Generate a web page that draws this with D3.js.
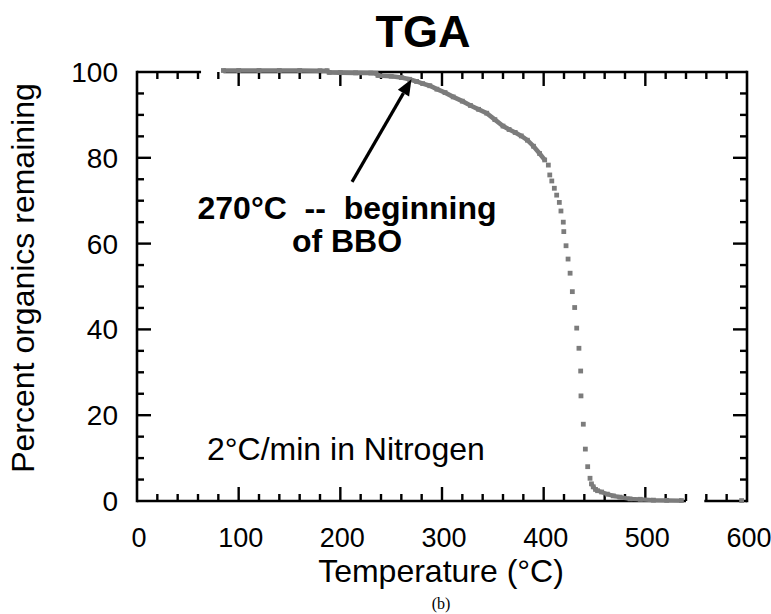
<!DOCTYPE html>
<html>
<head>
<meta charset="utf-8">
<script src="https://cdn.jsdelivr.net/npm/d3@7/dist/d3.min.js"></script>
<style>
  body { margin: 0; background: #fff; }
  svg { display: block; font-family: "Liberation Sans", Arial, Helvetica, sans-serif; }
</style>
</head>
<body>
<svg id="chart" width="771" height="614"></svg>
<script>
// TGA record (temperature in deg C, percent organics remaining)
// continuous part of the trace before the sharp drop
var earlyTemp = [85, 100, 120, 140, 160, 180, 187, 189, 200, 215, 230, 235, 237, 250, 260, 268, 275, 281,
                 288, 295, 303, 311, 320, 328, 336, 344, 352, 360, 366, 372, 378, 384, 390, 396, 401];
var earlyPct  = [100.35, 100.35, 100.35, 100.35, 100.35, 100.3, 100.3, 99.9, 99.85, 99.8, 99.75, 99.7, 99.2, 99.0, 98.7, 98.3, 97.8, 97.3,
                 96.8, 96.0, 95.2, 94.2, 93.2, 92.2, 91.3, 90.4, 88.9, 87.4, 86.6, 85.9, 85.1, 84.1, 82.7, 81.0, 79.5];
// separate points of the fast decomposition
var dropTemp = [404.6, 406, 408, 410.5, 412.8, 415.4, 417, 419.3, 419.8, 422, 424, 426, 428.2, 430.5,
                432.5, 434.7, 436.4, 436.7, 439, 441, 443.3, 445.6, 594.7];
var dropPct  = [78.3, 76, 74.6, 72.9, 71.3, 69.6, 67.6, 65, 62.8, 59.5, 56.4, 53.1, 48.8, 45.1,
                40.3, 35.6, 30.3, 24.5, 17.9, 12.1, 8, 5.3, 0.1];
// residue tail (continuous again)
var tailTemp = [447, 448.8, 451, 453, 457, 462.6, 468.5, 475, 485, 495, 508, 521, 535.5];
var tailPct  = [4.0, 3.3, 2.7, 2.4, 2.1, 1.6, 1.2, 0.9, 0.5, 0.4, 0.2, 0.15, 0.1];

var xTicks = [0, 100, 200, 300, 400, 500, 600];
var yTicks = [0, 20, 40, 60, 80, 100];

var svg = d3.select("#chart");
var plotL = 137, plotR = 747, plotT = 72, plotB = 501;

var x = d3.scaleLinear().domain([0, 600]).range([plotL, plotR]);
var y = d3.scaleLinear().domain([0, 100]).range([plotB, plotT]);

var gray = "#7c7c7c";
var majorLen = 14, minorLen = 7;

// frame (top and bottom lines are broken in the original)
var frame = svg.append("g").attr("stroke", "#000").attr("stroke-width", 2.6).attr("fill", "none");
[[0, 63], [85, 600]].forEach(function (s) {
    frame.append("line").attr("x1", x(s[0])).attr("x2", x(s[1])).attr("y1", y(100)).attr("y2", y(100));
});
[[0, 540], [558, 600]].forEach(function (s) {
    frame.append("line").attr("x1", x(s[0])).attr("x2", x(s[1])).attr("y1", y(0)).attr("y2", y(0));
});
frame.append("line").attr("x1", x(0)).attr("x2", x(0)).attr("y1", y(0) + 1.3).attr("y2", y(100) - 1.3);
frame.append("line").attr("x1", x(600)).attr("x2", x(600)).attr("y1", y(0) + 1.3).attr("y2", y(100) - 1.3);

// ticks, all pointing inward
var tickG = svg.append("g").attr("stroke", "#000").attr("stroke-width", 2.4);
d3.range(20, 600, 20).forEach(function (t) {
    var len = t % 100 === 0 ? majorLen : minorLen;
    tickG.append("line").attr("x1", x(t)).attr("x2", x(t)).attr("y1", y(0)).attr("y2", y(0) - len);
    tickG.append("line").attr("x1", x(t)).attr("x2", x(t)).attr("y1", y(100)).attr("y2", y(100) + len);
});
d3.range(5, 100, 5).forEach(function (p) {
    var len = p % 20 === 0 ? majorLen : minorLen;
    tickG.append("line").attr("x1", x(0)).attr("x2", x(0) + len).attr("y1", y(p)).attr("y2", y(p));
    tickG.append("line").attr("x1", x(600)).attr("x2", x(600) - len).attr("y1", y(p)).attr("y2", y(p));
});

// tick labels
svg.append("g").selectAll("text").data(xTicks).enter().append("text")
    .attr("x", function (d) { return x(d) + 2; })
    .attr("y", 547)
    .attr("text-anchor", "middle")
    .attr("font-size", 27)
    .text(function (d) { return d; });

svg.append("g").selectAll("text").data(yTicks).enter().append("text")
    .attr("x", 118)
    .attr("y", function (d) { return y(d) + 10; })
    .attr("text-anchor", "end")
    .attr("font-size", 28)
    .text(function (d) { return d; });

// data: thick trace where the recorder points merge, squares everywhere
var line = d3.line().x(function (d) { return x(d[0]); }).y(function (d) { return y(d[1]); });
var early = d3.zip(earlyTemp, earlyPct);
var drop = d3.zip(dropTemp, dropPct);
var tail = d3.zip(tailTemp, tailPct);

svg.append("path").datum(early).attr("d", line)
    .attr("fill", "none").attr("stroke", gray).attr("stroke-width", 4.6);
svg.append("path").datum(tail).attr("d", line)
    .attr("fill", "none").attr("stroke", gray).attr("stroke-width", 4.2);

var sq = 4.8;
svg.append("g").selectAll("rect").data(early.concat(drop, tail)).enter().append("rect")
    .attr("x", function (d) { return x(d[0]) - sq / 2; })
    .attr("y", function (d) { return y(d[1]) - sq / 2; })
    .attr("width", sq).attr("height", sq)
    .attr("fill", gray);

// annotation arrow
var tip = [x(270), y(98.3)], tailPt = [x(211.5), y(74.4)];
var ang = Math.atan2(tip[1] - tailPt[1], tip[0] - tailPt[0]);
var headLen = 16, headW = 6.5;
var base = [tip[0] - headLen * Math.cos(ang), tip[1] - headLen * Math.sin(ang)];
svg.append("line")
    .attr("x1", tailPt[0]).attr("y1", tailPt[1])
    .attr("x2", base[0]).attr("y2", base[1])
    .attr("stroke", "#000").attr("stroke-width", 3.2);
svg.append("path")
    .attr("d", "M" + tip[0] + "," + tip[1] +
        "L" + (base[0] + headW * Math.sin(ang)) + "," + (base[1] - headW * Math.cos(ang)) +
        "L" + (base[0] - headW * Math.sin(ang)) + "," + (base[1] + headW * Math.cos(ang)) + "Z")
    .attr("fill", "#000");

svg.append("text")
    .attr("x", 347).attr("y", 219)
    .attr("text-anchor", "middle")
    .attr("font-size", 32).attr("font-weight", "bold")
    .style("white-space", "pre")
    .text("270\u00B0C  --  beginning");
svg.append("text")
    .attr("x", 347).attr("y", 252)
    .attr("text-anchor", "middle")
    .attr("font-size", 32).attr("font-weight", "bold")
    .text("of BBO");

svg.append("text")
    .attr("x", 207).attr("y", 460)
    .attr("font-size", 32)
    .text("2\u00B0C/min in Nitrogen");

// titles
svg.append("text")
    .attr("x", 423).attr("y", 47)
    .attr("text-anchor", "middle")
    .attr("font-size", 45).attr("font-weight", "bold")
    .text("TGA");

svg.append("text")
    .attr("x", 441).attr("y", 582)
    .attr("text-anchor", "middle")
    .attr("font-size", 32)
    .text("Temperature (\u00B0C)");

svg.append("text")
    .attr("transform", "translate(34,278) rotate(-90)")
    .attr("text-anchor", "middle")
    .attr("font-size", 32)
    .text("Percent organics remaining");

svg.append("text")
    .attr("x", 441).attr("y", 609)
    .attr("text-anchor", "middle")
    .attr("font-family", "'Liberation Serif', 'Times New Roman', serif")
    .attr("font-size", 16)
    .text("(b)");
</script>
</body>
</html>
